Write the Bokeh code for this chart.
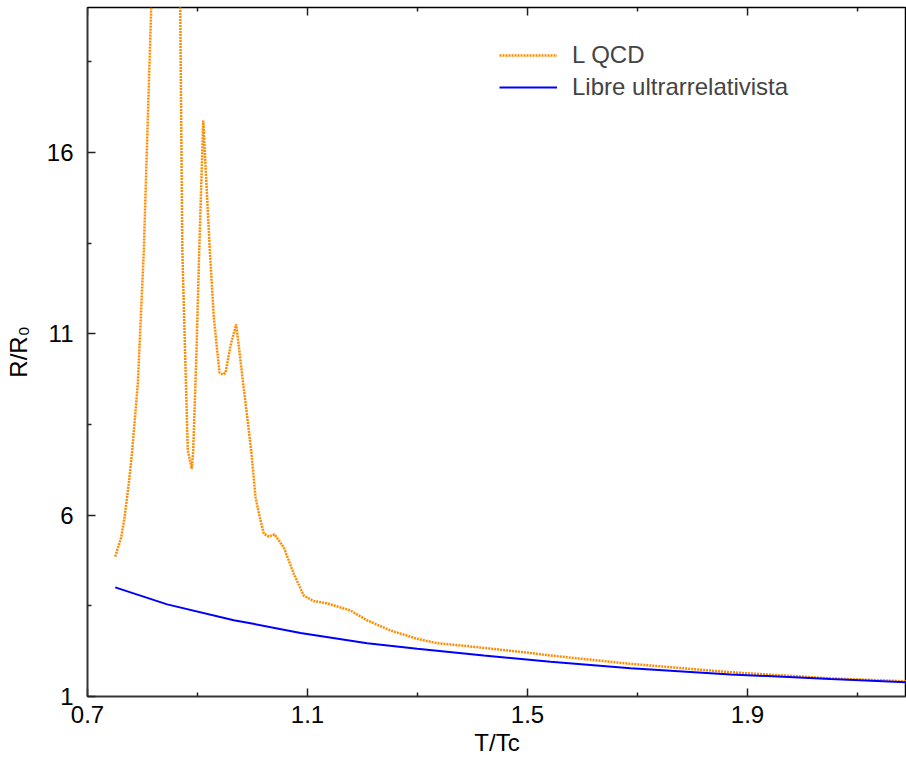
from bokeh.plotting import figure
from bokeh.models import Range1d, FixedTicker, Legend, LegendItem
from bokeh.embed import file_html
from bokeh.resources import INLINE

# L QCD curve (T/Tc, R/R0)
qcd_x = [0.7504, 0.7613, 0.7673, 0.7751, 0.7813, 0.7915, 0.8024, 0.8158, 0.857,
         0.8686, 0.8724, 0.8773, 0.8824, 0.8896, 0.8922, 0.8982, 0.9031, 0.9104,
         0.9224, 0.9296, 0.9358, 0.940, 0.946, 0.951, 0.960, 0.9704, 0.9831,
         0.9904, 0.9976, 1.0055, 1.0133, 1.0205, 1.0296, 1.040, 1.0569, 1.0751,
         1.0933, 1.1115, 1.1358, 1.1782, 1.2085, 1.2509, 1.2995, 1.3358, 1.3904,
         1.4509, 1.5055, 1.5418, 1.6873, 1.8691, 2.0509, 2.1891]
qcd_y = [4.86, 5.39, 5.94, 6.87, 7.78, 9.63, 13.30, 20.0, 39.0,
         20.0, 13.30, 10.54, 7.78, 7.28, 7.78, 10.54, 13.30, 16.88,
         13.30, 11.46, 10.54, 9.93, 9.88, 9.93, 10.68, 11.26, 9.62,
         8.70, 7.78, 6.49, 5.94, 5.49, 5.41, 5.47, 5.11, 4.38,
         3.78, 3.63, 3.57, 3.37, 3.10, 2.82, 2.59, 2.47, 2.39,
         2.29, 2.20, 2.13, 1.90, 1.67, 1.50, 1.42]

# Free ultrarelativistic curve
free_x = [0.7504, 0.8449, 0.966, 0.9964, 1.0873, 1.2085, 1.2995, 1.4205,
          1.5418, 1.6873, 1.8691, 2.0509, 2.1891]
free_y = [4.01, 3.54, 3.10, 3.02, 2.75, 2.47, 2.32, 2.13,
          1.96, 1.78, 1.61, 1.48, 1.39]

x_ticks = [0.7, 1.1, 1.5, 1.9]
x_minor = [0.9, 1.3, 1.7, 2.1]
y_ticks = [1, 6, 11, 16]
y_minor = [3.5, 8.5, 13.5, 18.5]

X_MIN, X_MAX = 0.7, 2.189
Y_MIN, Y_MAX = 1, 20

FONT = "Liberation Sans"
FS = "24px"

p = figure(width=906, height=763, output_backend="svg", toolbar_location=None,
           x_range=Range1d(X_MIN, X_MAX), y_range=Range1d(Y_MIN, Y_MAX),
           min_border_left=87, min_border_right=0, min_border_top=7,
           min_border_bottom=67, x_axis_label="T/Tc", y_axis_label="R/R₀")

p.grid.visible = False
p.background_fill_color = "white"
p.border_fill_color = "white"
p.outline_line_color = "black"
p.outline_line_width = 1.5

p.xaxis.ticker = FixedTicker(ticks=x_ticks, minor_ticks=x_minor)
p.yaxis.ticker = FixedTicker(ticks=y_ticks, minor_ticks=y_minor)

for ax in list(p.xaxis) + list(p.yaxis):
    ax.axis_line_color = "#333333"
    ax.axis_line_width = 1.5
    ax.major_tick_in = 8
    ax.major_tick_out = 0
    ax.minor_tick_in = 4
    ax.minor_tick_out = 0
    ax.major_tick_line_color = "#222222"
    ax.minor_tick_line_color = "#222222"
    ax.major_tick_line_width = 1.5
    ax.minor_tick_line_width = 1.5
    ax.major_label_text_font = FONT
    ax.major_label_text_color = "black"
    ax.major_label_text_font_size = FS
    ax.axis_label_text_font = FONT
    ax.axis_label_text_font_style = "normal"
    ax.axis_label_text_color = "black"
    ax.axis_label_text_font_size = FS

p.xaxis.major_label_standoff = 9
p.xaxis.axis_label_standoff = 3
p.yaxis.major_label_standoff = 14
p.yaxis.axis_label_standoff = 12

# mirrored ticks on the top border
p.ray(x=x_ticks, y=[Y_MAX] * len(x_ticks), length=8, length_units="screen",
      angle=-90, angle_units="deg", line_color="#222222", line_width=1.5)
p.ray(x=x_minor, y=[Y_MAX] * len(x_minor), length=4, length_units="screen",
      angle=-90, angle_units="deg", line_color="#222222", line_width=1.5)

r1 = p.line(qcd_x, qcd_y, line_color="#ff8c00", line_width=2.5, line_dash="2 1")
r2 = p.line(free_x, free_y, line_color="#0000ff", line_width=2)

legend = Legend(items=[LegendItem(label="L QCD", renderers=[r1]),
                       LegendItem(label="Libre ultrarrelativista", renderers=[r2])],
                location=(412, 593), orientation="vertical")
legend.border_line_color = None
legend.background_fill_alpha = 0
legend.label_text_font = FONT
legend.label_text_font_size = FS
legend.glyph_width = 58
legend.glyph_height = 32
legend.label_height = 32
legend.label_standoff = 15
legend.spacing = 0
legend.padding = 0
legend.margin = 0
p.add_layout(legend, "center")

open("out.html", "w").write(file_html(p, INLINE))
